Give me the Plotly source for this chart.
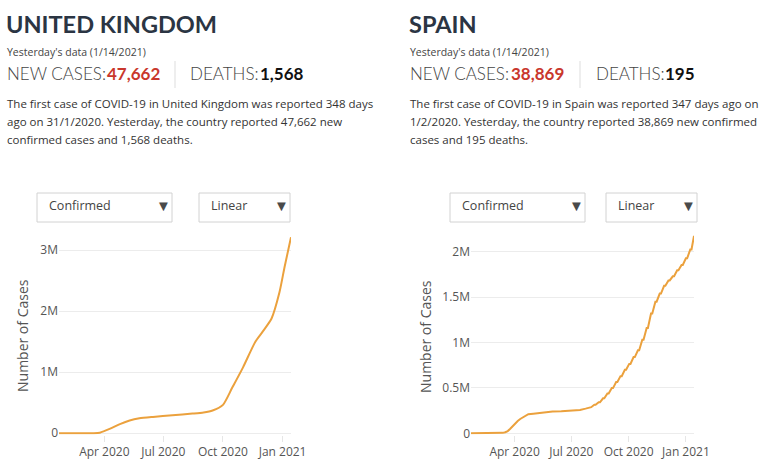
import plotly.graph_objects as go

W, H = 767, 469

# ---------------- data ----------------
uk_dates = ["2020-01-22", "2020-03-01", "2020-03-15", "2020-03-25", "2020-04-10",
            "2020-04-25", "2020-05-10", "2020-05-25", "2020-06-15", "2020-07-15",
            "2020-08-15", "2020-09-01", "2020-09-15", "2020-10-01", "2020-10-15",
            "2020-11-01", "2020-11-20", "2020-12-01", "2020-12-15", "2020-12-27",
            "2021-01-04", "2021-01-14"]
uk_cases = [0, 40, 1400, 9500, 75000,
            150000, 210000, 245000, 268000, 295000,
            322000, 340000, 372000, 465000, 740000,
            1080000, 1500000, 1660000, 1880000, 2300000,
            2720000, 3210000]

es_dates = ["2020-01-22", "2020-02-24", "2020-03-01", "2020-03-08", "2020-03-13",
            "2020-03-17", "2020-03-21", "2020-03-25", "2020-03-29", "2020-04-02",
            "2020-04-06", "2020-04-10", "2020-04-14", "2020-04-18", "2020-04-23",
            "2020-05-01", "2020-05-15", "2020-06-01", "2020-06-15", "2020-07-01",
            "2020-07-15", "2020-07-24",
            "2020-07-31", "2020-08-02", "2020-08-07", "2020-08-09", "2020-08-14", "2020-08-16",
            "2020-08-21", "2020-08-23", "2020-08-28", "2020-08-30", "2020-09-04", "2020-09-06",
            "2020-09-11", "2020-09-13", "2020-09-18", "2020-09-20", "2020-09-25", "2020-09-27",
            "2020-10-02", "2020-10-04", "2020-10-09", "2020-10-11", "2020-10-16", "2020-10-18",
            "2020-10-23", "2020-10-25", "2020-10-30", "2020-11-01", "2020-11-06", "2020-11-08",
            "2020-11-13", "2020-11-15", "2020-11-20", "2020-11-22", "2020-11-27", "2020-11-29",
            "2020-12-04", "2020-12-06", "2020-12-11", "2020-12-13", "2020-12-18", "2020-12-20",
            "2020-12-25", "2020-12-27", "2021-01-01", "2021-01-03", "2021-01-08", "2021-01-10",
            "2021-01-14"]
es_cases = [0, 0, 80, 600, 5200,
            11700, 25000, 50000, 80000, 112000,
            136000, 158000, 172000, 190000, 210000,
            216000, 230000, 240000, 244000, 250000,
            258000, 272000,
            288000, 288000, 314000, 314000, 342000, 342000,
            386000, 386000, 439000, 439000, 498000, 498000,
            566000, 566000, 630000, 630000, 700000, 700000,
            765000, 765000, 840000, 840000, 915000, 915000,
            1030000, 1030000, 1160000, 1160000, 1320000, 1320000,
            1450000, 1450000, 1540000, 1540000, 1625000, 1625000,
            1684000, 1684000, 1730000, 1730000, 1797000, 1797000,
            1854000, 1854000, 1928000, 1928000, 2025000, 2025000,
            2176000]

uk_ytickvals = [0, 1000000, 2000000, 3000000]
uk_yticktext = ["0", "1M", "2M", "3M"]
es_ytickvals = [0, 500000, 1000000, 1500000, 2000000]
es_yticktext = ["0", "0.5M", "1M", "1.5M", "2M"]

LINE = "#eba13d"
TXT = "#555555"
FONT = "Open Sans"


def px(x):
    return x / W


def py(y):
    return 1 - y / H


fig = go.Figure()
fig.add_trace(go.Scatter(x=uk_dates, y=uk_cases, mode="lines",
                         line=dict(color=LINE, width=2, shape="spline", smoothing=0.6),
                         xaxis="x", yaxis="y", hoverinfo="skip", showlegend=False))
fig.add_trace(go.Scatter(x=es_dates, y=es_cases, mode="lines",
                         line=dict(color=LINE, width=2),
                         xaxis="x2", yaxis="y2", hoverinfo="skip", showlegend=False))

ydom = [py(434.5), py(235.0)]
xcommon = dict(dtick="M3", tick0="2020-01-01", tickformat="%b %Y", showgrid=False,
               ticks="outside", ticklen=6, tickcolor="#e6e6e6", showline=False,
               zeroline=False, automargin=False,
               tickfont=dict(family=FONT, size=12, color=TXT))
ycommon = dict(showgrid=True, gridcolor="#ececec", gridwidth=1, zeroline=False,
               showline=False, ticks="", automargin=False,
               tickfont=dict(family=FONT, size=12, color=TXT))

fig.update_layout(
    width=W, height=H, margin=dict(l=0, r=0, t=0, b=0, pad=0, autoexpand=False),
    paper_bgcolor="white", plot_bgcolor="white", showlegend=False,
    xaxis=dict(domain=[px(59), px(291)], anchor="y", **xcommon),
    yaxis=dict(domain=ydom, anchor="x", range=[-20000, 3247000],
               tickvals=uk_ytickvals, ticktext=uk_yticktext, **ycommon),
    xaxis2=dict(domain=[px(471), px(694)], anchor="y2", **xcommon),
    yaxis2=dict(domain=ydom, anchor="x2", range=[-13000, 2185000],
                tickvals=es_ytickvals, ticktext=es_yticktext, **ycommon),
)

anns = []
shapes = []


def ann(x, y, text, size, color, family=FONT, xanchor="left", angle=0, weight=None):
    f = dict(family=family, size=size, color=color)
    if weight:
        f["weight"] = weight
    anns.append(dict(x=px(x), y=py(y), xref="paper", yref="paper", text=text,
                     showarrow=False, xanchor=xanchor, yanchor="middle",
                     font=f, textangle=angle, borderpad=0))


panels = [
    dict(x0=5, title="UNITED KINGDOM", new="47,662", deaths="1,568",
         num_x=106, div_x=175, deaths_x=189, dnum_x=259,
         lines=["The first case of COVID-19 in United Kingdom was reported 348 days",
                "ago on 31/1/2020. Yesterday, the country reported 47,662 new",
                "confirmed cases and 1,568 deaths."],
         ylab_x=22, dd1=(37, 172), dd2=(199, 290)),
    dict(x0=408, title="SPAIN", new="38,869", deaths="195",
         num_x=510, div_x=580, deaths_x=595, dnum_x=664,
         lines=["The first case of COVID-19 in Spain was reported 347 days ago on",
                "1/2/2020. Yesterday, the country reported 38,869 new confirmed",
                "cases and 195 deaths."],
         ylab_x=425, dd1=(450, 585), dd2=(606, 697)),
]

for p in panels:
    ann(p["x0"], 24, "<b>" + p["title"] + "</b>", 23.5, "#2b3543", family="Lato")
    ann(p["x0"] + 1, 52.5, "Yesterday's data (1/14/2021)", 10.5, "#444444")
    ann(p["x0"] + 1, 73, "NEW CASES:", 17, "#444444", family="Lato", weight=300)
    ann(p["num_x"], 73, "<b>" + p["new"] + "</b>", 17, "#c9372c", family="Lato")
    ann(p["deaths_x"], 73, "DEATHS:", 17, "#444444", family="Lato", weight=300)
    ann(p["dnum_x"], 73, "<b>" + p["deaths"] + "</b>", 17, "#111111", family="Lato")
    shapes.append(dict(type="line", xref="paper", yref="paper",
                       x0=px(p["div_x"]), x1=px(p["div_x"]), y0=py(61), y1=py(88),
                       line=dict(color="#dddddd", width=1)))
    for i, t in enumerate(p["lines"]):
        ann(p["x0"] + 1, 103.3 + i * 18, t, 11.5, "#333333")
    ann(p["ylab_x"], 336, "Number of Cases", 14, TXT, angle=-90, xanchor="center")
    for (a, b), label in [(p["dd1"], "Confirmed"), (p["dd2"], "Linear")]:
        shapes.append(dict(type="rect", xref="paper", yref="paper",
                           x0=px(a), x1=px(b), y0=py(222), y1=py(193),
                           line=dict(color="#d2d2d2", width=1), fillcolor="white"))
        ann(a + 11, 206, label, 12.5, "#444444")
        ann(b - 9, 205, "▼", 15, "#4a4a4a", xanchor="center")

fig.update_layout(annotations=anns, shapes=shapes)
fig.write_html("out.html")
